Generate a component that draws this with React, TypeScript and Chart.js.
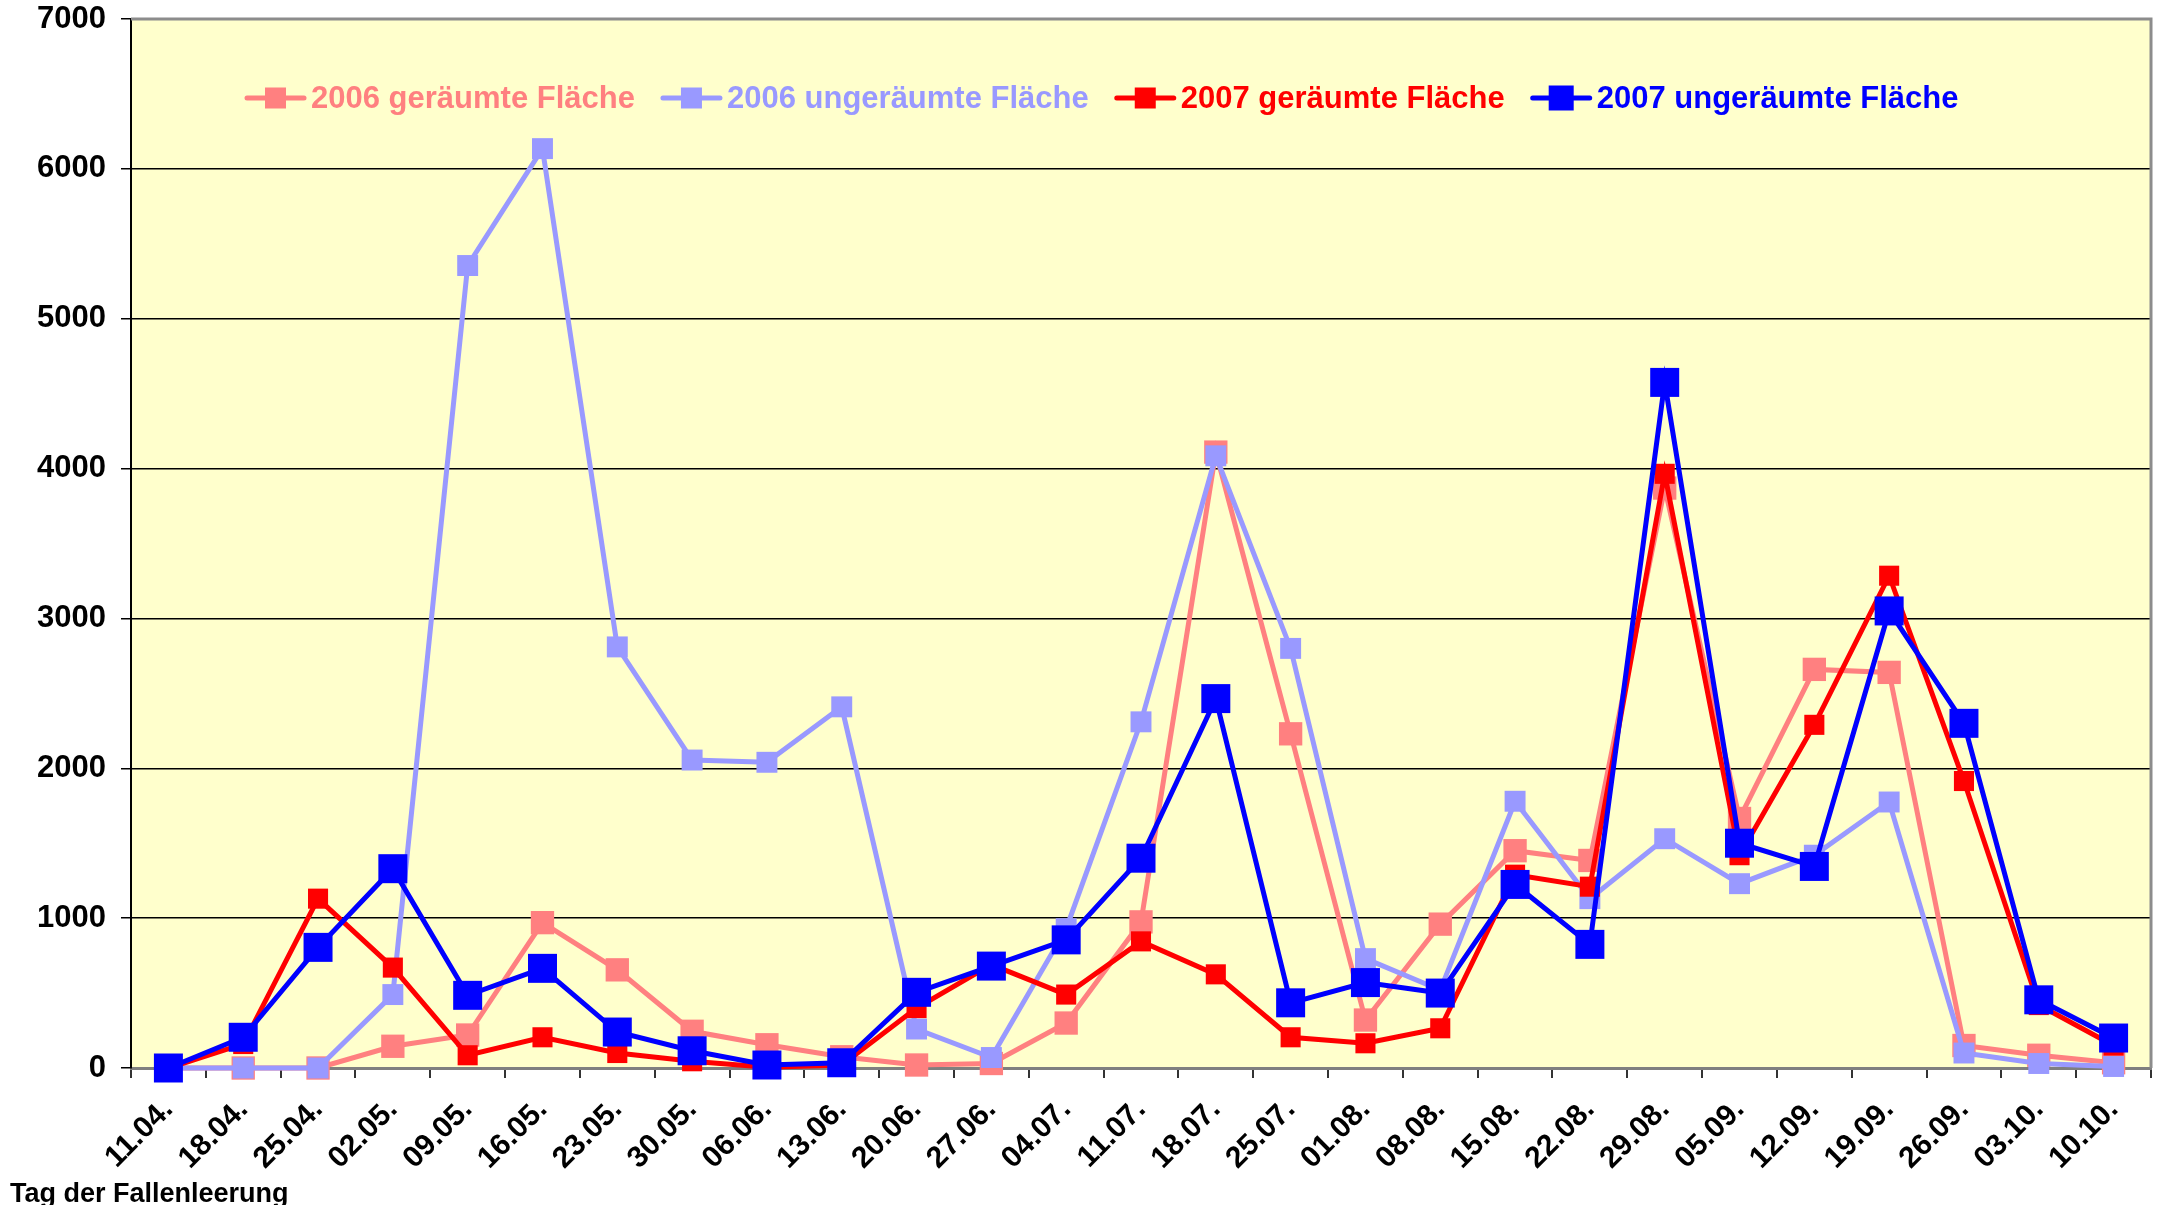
import React, { useEffect, useRef } from 'react';
import { Chart, registerables } from 'chart.js';

Chart.register(...registerables);

const categories = [
  '11.04.', '18.04.', '25.04.', '02.05.', '09.05.', '16.05.', '23.05.', '30.05.', '06.06.',
  '13.06.', '20.06.', '27.06.', '04.07.', '11.07.', '18.07.', '25.07.', '01.08.', '08.08.',
  '15.08.', '22.08.', '29.08.', '05.09.', '12.09.', '19.09.', '26.09.', '03.10.', '10.10.',
];

const cleared2006 = [0, 0, 0, 145, 220, 970, 655, 245, 155, 75, 20, 30, 300, 975, 4110, 2230, 320, 960, 1450, 1385, 3870, 1665, 2660, 2640, 150, 85, 35];
const uncleared2006 = [0, 0, 0, 490, 5355, 6135, 2810, 2055, 2040, 2410, 260, 70, 930, 2310, 4085, 2800, 730, 520, 1780, 1130, 1530, 1230, 1420, 1775, 100, 30, 10];
const cleared2007 = [0, 160, 1130, 670, 85, 205, 100, 45, 5, 20, 400, 690, 490, 845, 625, 205, 165, 265, 1290, 1210, 3965, 1420, 2290, 3285, 1915, 420, 150];
const uncleared2007 = [0, 205, 805, 1330, 485, 665, 240, 115, 20, 35, 505, 680, 855, 1400, 2465, 435, 570, 500, 1225, 825, 4575, 1500, 1345, 3050, 2300, 455, 200];

const seriesLabels = ['2006 geräumte Fläche', '2006 ungeräumte Fläche', '2007 geräumte Fläche', '2007 ungeräumte Fläche'];
const seriesColors = ['#FF8080', '#9999FF', '#FF0000', '#0000FF'];
const xAxisTitle = 'Tag der Fallenleerung';
const yMin = 0;
const yMax = 7000;
const yStep = 1000;

const FONT = '"Liberation Sans", Arial, Helvetica, sans-serif';

const plotPlugin = {
  id: 'plotDecor',
  beforeDraw(chart: any) {
    const { ctx, chartArea: a } = chart;
    ctx.save();
    ctx.fillStyle = '#FFFFCC';
    ctx.fillRect(a.left, a.top, a.right - a.left, a.bottom - a.top);
    ctx.restore();
  },
  beforeDatasetsDraw(chart: any) {
    const { ctx, chartArea: a } = chart;
    ctx.save();
    ctx.strokeStyle = '#8C8C8C';
    ctx.lineWidth = 3;
    ctx.beginPath();
    ctx.moveTo(a.left, a.top);
    ctx.lineTo(a.right, a.top);
    ctx.lineTo(a.right, a.bottom);
    ctx.stroke();
    ctx.restore();
  },
  afterDraw(chart: any) {
    const { ctx, chartArea: a } = chart;
    ctx.save();
    // inline legend
    ctx.font = `bold 31px ${FONT}`;
    ctx.textBaseline = 'middle';
    ctx.textAlign = 'left';
    let x = a.left + 114;
    const y = a.top + 79;
    chart.data.datasets.forEach((ds: any) => {
      const color = ds.borderColor;
      ctx.strokeStyle = color;
      ctx.lineWidth = 5;
      ctx.lineCap = 'round';
      ctx.beginPath();
      ctx.moveTo(x + 2, y);
      ctx.lineTo(x + 59, y);
      ctx.stroke();
      const s = ds.legendSquare;
      ctx.fillStyle = color;
      ctx.fillRect(x + 30.5 - s / 2, y - s / 2, s, s);
      const tx = x + 66;
      ctx.fillText(ds.label, tx, y + 1);
      x = tx + ctx.measureText(ds.label).width + 26;
    });
    // axis title
    ctx.fillStyle = '#000';
    ctx.font = `bold 27px ${FONT}`;
    ctx.textBaseline = 'alphabetic';
    ctx.fillText(xAxisTitle, 10, chart.height - 3);
    ctx.restore();
  },
};

function makeDataset(i: number, data: number[], radius: number, order: number, legendSquare: number) {
  return {
    label: seriesLabels[i],
    data,
    borderColor: seriesColors[i],
    backgroundColor: seriesColors[i],
    pointBackgroundColor: seriesColors[i],
    pointBorderColor: seriesColors[i],
    pointBorderWidth: 0,
    borderWidth: 5,
    pointStyle: 'rect',
    pointRadius: radius,
    pointHoverRadius: radius,
    tension: 0,
    fill: false,
    clip: false,
    order,
    legendSquare,
  };
}

export default function App() {
  const ref = useRef<HTMLCanvasElement | null>(null);

  useEffect(() => {
    document.body.style.margin = '0';
    const canvas = ref.current;
    if (!canvas) return;
    const chart = new Chart(canvas, {
      type: 'line',
      data: {
        labels: categories,
        datasets: [
          makeDataset(0, cleared2006, 16.5, 3, 21),
          makeDataset(1, uncleared2006, 14.8, 2, 21),
          makeDataset(2, cleared2007, 14.2, 1, 21),
          makeDataset(3, uncleared2007, 20.5, 0, 25),
        ] as any,
      },
      options: {
        responsive: false,
        animation: false,
        devicePixelRatio: 1,
        layout: { autoPadding: false, padding: { top: 19, right: 10, left: 0, bottom: 0 } },
        plugins: {
          legend: { display: false },
          tooltip: { enabled: false },
          title: { display: false },
        },
        scales: {
          x: {
            type: 'category',
            offset: true,
            afterFit: (scale: any) => {
              scale.height = 137;
              scale.paddingLeft = 0;
              scale.paddingRight = 0;
            },
            grid: {
              offset: true,
              drawOnChartArea: false,
              drawTicks: true,
              tickLength: 10,
              color: '#333333',
              lineWidth: 2,
            },
            border: { display: true, color: '#7F7F7F', width: 3 },
            ticks: {
              autoSkip: false,
              maxRotation: 45,
              minRotation: 45,
              color: '#000',
              padding: 14,
              font: { family: FONT, size: 30, weight: 'bold' },
            },
          },
          y: {
            min: yMin,
            max: yMax,
            afterFit: (scale: any) => {
              scale.width = 131;
              scale.paddingTop = 0;
              scale.paddingBottom = 0;
            },
            grid: {
              color: '#000000',
              lineWidth: 1.5,
              drawTicks: true,
              tickLength: 10,
            },
            border: { display: true, color: '#000', width: 2 },
            ticks: {
              stepSize: yStep,
              color: '#000',
              padding: 15,
              font: { family: FONT, size: 31, weight: 'bold' },
              callback: (v: any) => String(v),
            },
          },
        },
      },
      plugins: [plotPlugin],
    } as any);
    return () => chart.destroy();
  }, []);

  return (
    <canvas
      ref={ref}
      width={2161}
      height={1205}
      style={{ display: 'block', width: 2161, height: 1205 }}
    />
  );
}
